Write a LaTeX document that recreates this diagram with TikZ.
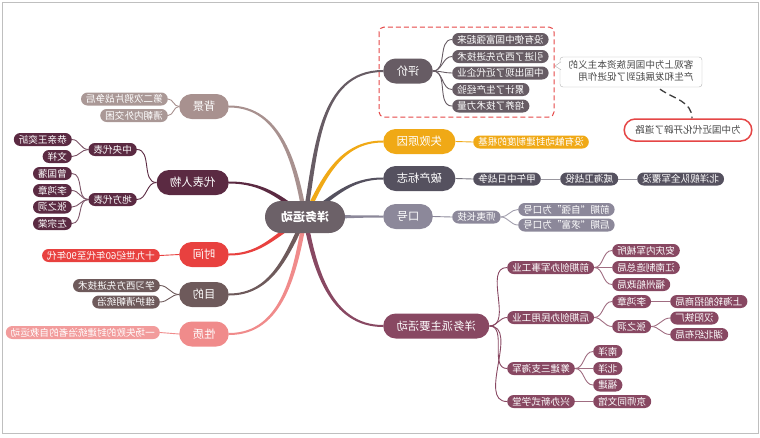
\documentclass[tikz,border=0pt]{standalone}
\usepackage{fontspec}
\setmainfont{Noto Sans CJK SC}
\usetikzlibrary{calc}
\pgfdeclarelayer{background}
\pgfsetlayers{background,main}
\newcommand\M[1]{\reflectbox{#1}}
\definecolor{cC}{HTML}{6C6168}
\definecolor{cPJ}{HTML}{675C64}
\definecolor{cSB}{HTML}{F0A916}
\definecolor{cPC}{HTML}{55515F}
\definecolor{cKH}{HTML}{8C889A}
\definecolor{cYW}{HTML}{884862}
\definecolor{cBJ}{HTML}{A8918F}
\definecolor{cBJs}{HTML}{AA9896}
\definecolor{cDB}{HTML}{5B2A42}
\definecolor{cSJ}{HTML}{E8413F}
\definecolor{cMD}{HTML}{6E5A5B}
\definecolor{cXZ}{HTML}{F08B8B}
\definecolor{cXZs}{HTML}{F29C9C}
\definecolor{cRed}{HTML}{E54646}
\definecolor{cTxt}{HTML}{4A4A4A}
\newcommand\taper[6]{\fill[#1] ($(#2)+({#4+90}:2.2)$) to[out=#4,in=#5] ($(#3)+(0,#6)$) -- ($(#3)-(0,#6)$) to[out=#5,in=#4] ($(#2)+({#4-90}:2.2)$) -- cycle;}
\begin{document}
\begin{tikzpicture}[x=1pt,y=1pt,
  base/.style={inner ysep=0pt, text=white, align=center},
  mainnode/.style={base, minimum height=25pt, inner xsep=13.5pt, rounded corners=12.5pt, font=\fontsize{11.3}{12}\selectfont},
  subnode/.style={base, minimum height=13pt, inner xsep=5pt, rounded corners=6.5pt, font=\fontsize{9.6}{10}\selectfont},
  centernode/.style={base, minimum height=32pt, inner xsep=16pt, rounded corners=16pt, font=\fontsize{12}{13}\bfseries\selectfont},
  conn/.style={line width=0.9pt},
  lw/.style={anchor=west}, le/.style={anchor=east}
]
\useasboundingbox (0,0) rectangle (760,-437);
\draw[black!25, line width=0.8pt] (2,-2) rectangle (758,-433);

% centre
\node[centernode, fill=cC] (c) at (305,-217) {\M{洋务运动}};

% right main branches
\node[mainnode, fill=cPJ, lw] (pj) at (383,-71) {\M{评价}};
\node[mainnode, fill=cSB, lw] (sb) at (383,-141.5) {\M{失败原因}};
\node[mainnode, fill=cPC, lw] (pc) at (383,-178.5) {\M{破产标志}};
\node[mainnode, fill=cKH, lw] (kh) at (383,-216.5) {\M{口号}};
\node[mainnode, fill=cYW, lw] (yw) at (383,-326) {\M{洋务派主要活动}};

% left main branches
\node[mainnode, fill=cBJ, le] (bj) at (229,-106.5) {\M{背景}};
\node[mainnode, fill=cDB, le] (db) at (229,-182.5) {\M{代表人物}};
\node[mainnode, fill=cSJ, le] (sj) at (229,-254.5) {\M{时间}};
\node[mainnode, fill=cMD, le] (md) at (229,-294.5) {\M{目的}};
\node[mainnode, fill=cXZ, le] (xz) at (229,-334) {\M{性质}};

% 评价 children
\node[subnode, fill=cPJ, lw] (pj1) at (452,-39.5) {\M{没有使中国富强起来}};
\node[subnode, fill=cPJ, lw] (pj2) at (452,-56.5) {\M{引进了西方先进技术}};
\node[subnode, fill=cPJ, lw] (pj3) at (452,-73) {\M{中国出现了近代企业}};
\node[subnode, fill=cPJ, lw] (pj4) at (452,-89.5) {\M{累计了生产经验}};
\node[subnode, fill=cPJ, lw] (pj5) at (452,-106) {\M{培养了技术力量}};
\draw[cRed, dashed, dash pattern=on 5pt off 3pt, line width=1pt, rounded corners=5pt] (379,-27) rectangle (554,-117);

% callout
\node[draw=black!30, fill=white, rounded corners=3pt, minimum width=142pt, minimum height=30pt, inner sep=2pt, text=cTxt, font=\fontsize{9.6}{12.5}\selectfont] (cal) at (631,-72)
  {\M{\begin{tabular}{@{}l@{}}客观上为中国民族资本主义的\\产生和发展起到了促进作用\end{tabular}}};
\coordinate (calptr) at (555,-66);
\filldraw[draw=black!30, fill=white, line width=0.4pt] ($(cal.north west)+(1.2,-5)$) -- (calptr) -- ($(cal.north west)+(1.2,-13)$);
\node[draw=cRed, line width=1.5pt, fill=white, rounded corners=11pt, minimum height=22pt, inner xsep=11pt, inner ysep=0pt, text=cTxt, font=\fontsize{9.6}{10}\selectfont] (ct) at (688,-130) {\M{为中国近代化开辟了道路}};
\draw[black!75, line width=1.3pt, dash pattern=on 7pt off 4pt] ($(cal.south)+(29,-2)$) to[out=-35,in=90] ($(ct.north)+(4,0)$);

% 失败原因 child
\node[subnode, fill=cSB, lw] (sb1) at (473,-142) {\M{没有触动封建制度的根基}};

% 破产标志 chain
\node[subnode, fill=cPC, lw] (pc1) at (473,-179) {\M{甲午中日战争}};
\node[subnode, fill=cPC, lw] (pc2) at (560,-179) {\M{威海卫战役}};
\node[subnode, fill=cPC, lw] (pc3) at (637,-179) {\M{北洋舰队全军覆没}};

% 口号
\node[subnode, fill=cKH, lw] (kh1) at (452,-217) {\M{师夷长技}};
\node[subnode, fill=cKH, lw] (kh2) at (518,-209.5) {\M{前期“自强”为口号}};
\node[subnode, fill=cKH, lw] (kh3) at (518,-225) {\M{后期“求富”为口号}};

% 洋务派主要活动
\node[subnode, fill=cYW, lw] (y1) at (507,-267.5) {\M{前期创办军事工业}};
\node[subnode, fill=cYW, lw] (y11) at (612,-250.5) {\M{安庆内军械所}};
\node[subnode, fill=cYW, lw] (y12) at (612,-267.5) {\M{江南制造总局}};
\node[subnode, fill=cYW, lw] (y13) at (612,-284.5) {\M{福州船政局}};
\node[subnode, fill=cYW, lw] (y2) at (507,-317.5) {\M{后期创办民用工业}};
\node[subnode, fill=cYW, lw] (y21) at (612,-301.5) {\M{李鸿章}};
\node[subnode, fill=cYW, lw] (y211) at (670,-301.5) {\M{上海轮船招商局}};
\node[subnode, fill=cYW, lw] (y22) at (612,-326.5) {\M{张之洞}};
\node[subnode, fill=cYW, lw] (y221) at (670,-318) {\M{汉阳铁厂}};
\node[subnode, fill=cYW, lw] (y222) at (670,-334.5) {\M{湖北织布局}};
\node[subnode, fill=cYW, lw] (y3) at (507,-368.5) {\M{筹建三支海军}};
\node[subnode, fill=cYW, lw] (y31) at (593,-351.5) {\M{南洋}};
\node[subnode, fill=cYW, lw] (y32) at (593,-368.5) {\M{北洋}};
\node[subnode, fill=cYW, lw] (y33) at (593,-385) {\M{福建}};
\node[subnode, fill=cYW, lw] (y4) at (507,-401.5) {\M{兴办新式学堂}};
\node[subnode, fill=cYW, lw] (y41) at (593,-401.5) {\M{京师同文馆}};

% 背景
\node[subnode, fill=cBJs, le] (bj1) at (168,-99) {\M{第二次鸦片战争后}};
\node[subnode, fill=cBJs, le] (bj2) at (168,-115.5) {\M{清朝内外交困}};

% 代表人物
\node[subnode, fill=cDB, le] (d1) at (137,-149.5) {\M{中央代表}};
\node[subnode, fill=cDB, le] (d11) at (72,-139.5) {\M{恭亲王奕訢}};
\node[subnode, fill=cDB, le] (d12) at (72,-156.5) {\M{文祥}};
\node[subnode, fill=cDB, le] (d2) at (137,-199.5) {\M{地方代表}};
\node[subnode, fill=cDB, le] (d21) at (72,-173.5) {\M{曾国藩}};
\node[subnode, fill=cDB, le] (d22) at (72,-190.5) {\M{李鸿章}};
\node[subnode, fill=cDB, le] (d23) at (72,-207) {\M{张之洞}};
\node[subnode, fill=cDB, le] (d24) at (72,-223.5) {\M{左宗棠}};

% 时间 目的 性质
\node[subnode, fill=cSJ, le] (sj1) at (160,-255.5) {\M{十九世纪60年代至90年代}};
\node[subnode, fill=cMD, le] (md1) at (160,-285.5) {\M{学习西方先进技术}};
\node[subnode, fill=cMD, le] (md2) at (160,-302) {\M{维护清朝统治}};
\node[subnode, fill=cXZs, le] (xz1) at (160,-332.5) {\M{一场失败的封建统治者的自救运动}};

\begin{pgfonlayer}{background}
\taper{cPJ}{c}{pj.west}{80}{180}{1}
\taper{cSB}{c}{sb.west}{65}{180}{1}
\taper{cPC}{c}{pc.west}{35}{180}{1}
\taper{cKH}{c}{kh.west}{0}{180}{1}
\taper{cYW}{c}{yw.west}{-80}{180}{1}
\taper{cBJ}{c}{bj.east}{100}{0}{-1}
\taper{cDB}{c}{db.east}{140}{0}{-1}
\taper{cSJ}{c}{sj.east}{-150}{0}{-1}
\taper{cMD}{c}{md.east}{-115}{0}{-1}
\taper{cXZ}{c}{xz.east}{-100}{0}{-1}

\foreach \n in {pj1,pj2,pj3,pj4,pj5} \draw[conn, cPJ] (pj.east) to[out=0,in=180] (\n.west);
\draw[conn, cSB] (sb.east) -- (sb1.west);
\draw[conn, cPC!80] (pc.east) -- (pc1.west);
\draw[conn, cPC!60] (pc1.east) -- (pc2.west);
\draw[conn, cPC!60] (pc2.east) -- (pc3.west);
\draw[conn, cKH] (kh.east) -- (kh1.west);
\foreach \n in {kh2,kh3} \draw[conn, cKH!80] (kh1.east) to[out=0,in=180] (\n.west);
\foreach \n in {y1,y2,y3,y4} \draw[conn, cYW] (yw.east) to[out=0,in=180] (\n.west);
\foreach \n in {y11,y12,y13} \draw[conn, cYW!80] (y1.east) to[out=0,in=180] (\n.west);
\foreach \n in {y21,y22} \draw[conn, cYW!80] (y2.east) to[out=0,in=180] (\n.west);
\draw[conn, cYW!80] (y21.east) -- (y211.west);
\foreach \n in {y221,y222} \draw[conn, cYW!80] (y22.east) to[out=0,in=180] (\n.west);
\foreach \n in {y31,y32,y33} \draw[conn, cYW!80] (y3.east) to[out=0,in=180] (\n.west);
\draw[conn, cYW!80] (y4.east) -- (y41.west);

\foreach \n in {bj1,bj2} \draw[conn, cBJ] (bj.west) to[out=180,in=0] (\n.east);
\foreach \n in {d1,d2} \draw[conn, cDB] (db.west) to[out=180,in=0] (\n.east);
\foreach \n in {d11,d12} \draw[conn, cDB!80] (d1.west) to[out=180,in=0] (\n.east);
\foreach \n in {d21,d22,d23,d24} \draw[conn, cDB!80] (d2.west) to[out=180,in=0] (\n.east);
\draw[conn, cSJ] (sj.west) -- (sj1.east);
\foreach \n in {md1,md2} \draw[conn, cMD] (md.west) to[out=180,in=0] (\n.east);
\draw[conn, cXZ] (xz.west) -- (xz1.east);
\end{pgfonlayer}
\end{tikzpicture}
\end{document}
